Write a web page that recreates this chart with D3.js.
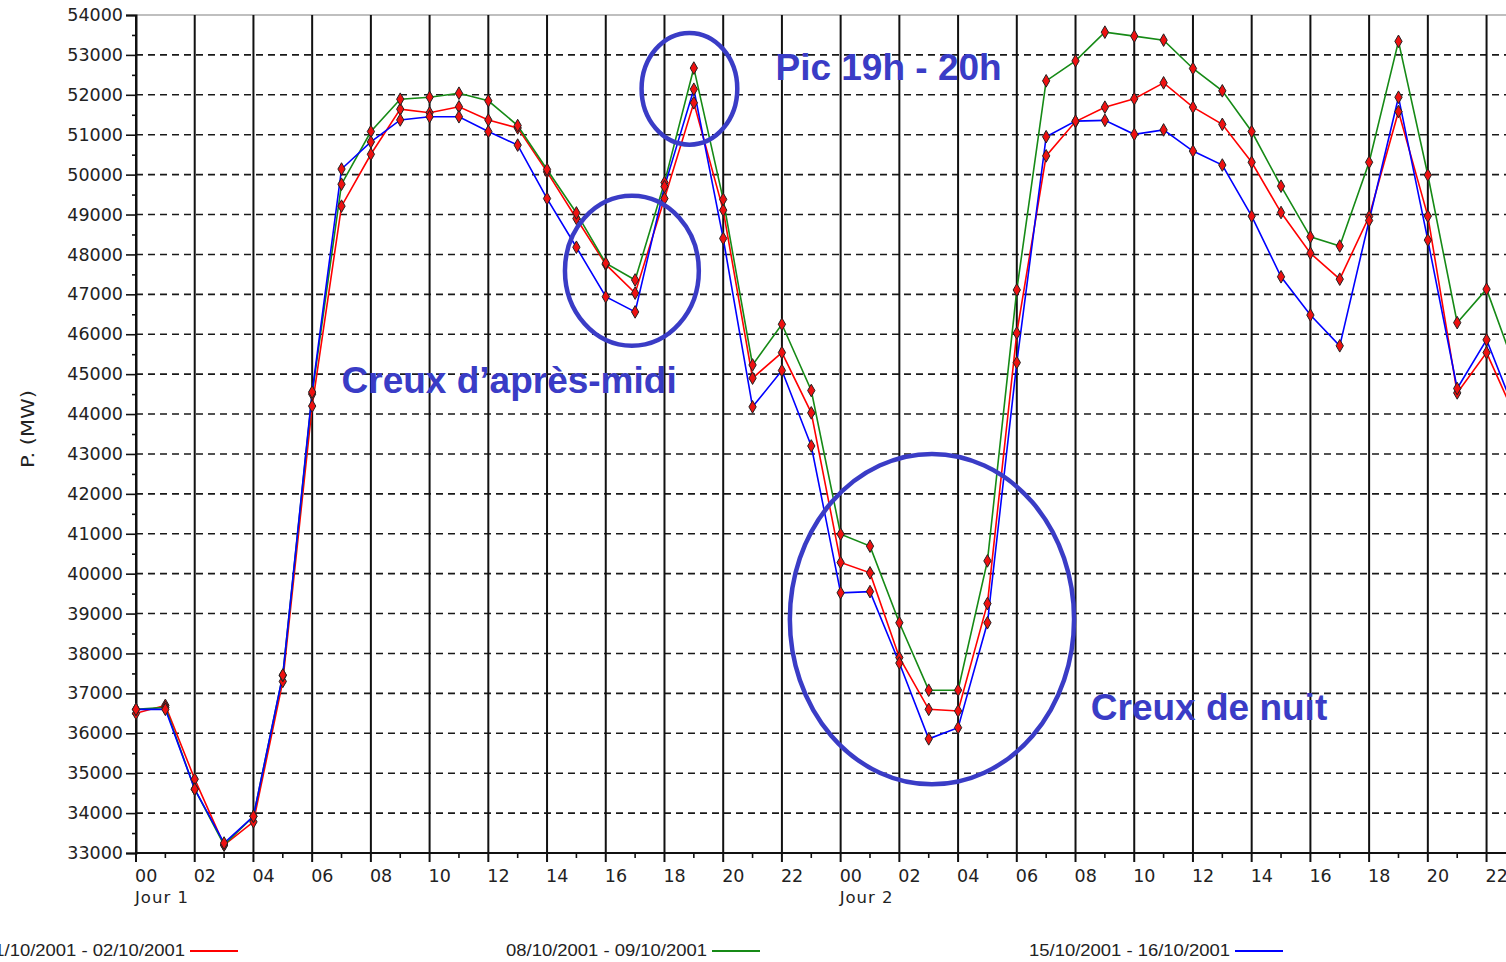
<!DOCTYPE html>
<html><head><meta charset="utf-8">
<script src="https://cdn.jsdelivr.net/npm/d3@7"></script>
<style>body{margin:0;background:#fff;} svg{display:block;}</style>
</head><body>
<svg id="c" width="1506" height="962"></svg>
<script>
const hours = d3.range(0, 48);
const tickLabels = ["00","02","04","06","08","10","12","14","16","18","20","22","00","02","04","06","08","10","12","14","16","18","20","22"];
const dayLabels = ["Jour 1", "Jour 2"];
const seriesNames = ["01/10/2001 - 02/10/2001", "08/10/2001 - 09/10/2001", "15/10/2001 - 16/10/2001"];
const redVals = [36500,36700,34850,33200,33780,37300,44200,49210,50510,51640,51550,51700,51370,51170,50070,48900,47750,47030,49400,51800,49110,44900,45540,44030,40280,40020,37900,36600,36560,39250,46030,50470,51330,51690,51900,52300,51690,51260,50310,49050,48030,47380,48950,51580,48960,44530,45540,43900];
const greenVals = [36600,36650,34600,33200,33920,37450,44500,49760,51080,51890,51940,52040,51850,51230,50130,49040,47780,47360,49800,52670,49380,45230,46250,44590,40990,40690,38770,37080,37080,40320,47110,52350,52850,53570,53470,53370,52660,52100,51080,49710,48440,48210,50310,53340,49990,46290,47130,45100];
const blueVals = [36600,36600,34600,33250,33920,37460,44550,50140,50820,51370,51450,51450,51080,50740,49400,48180,46940,46560,49700,52140,48400,44180,45090,43200,39520,39550,37760,35860,36140,38770,45290,50950,51340,51360,51010,51120,50590,50240,48960,47440,46480,45710,48850,51940,48360,44640,45860,44000];
const seriesColors = ["#ff0000", "#168a16", "#0000ff"];
const annotations = [
  {text: "Pic 19h - 20h", hour: 21.78, value: 52370},
  {text: "Creux d’après-midi", hour: 7.0, value: 44530},
  {text: "Creux de nuit", hour: 32.52, value: 36330}
];
const ellipses = [
  {hour: 18.85, value: 52150, rh: 1.63, rv: 1400},
  {hour: 16.89, value: 47590, rh: 2.28, rv: 1880},
  {hour: 27.11, value: 38860, rh: 4.84, rv: 4140}
];

const svg = d3.select("#c");
const pxPerHour = 29.36;
const x = d3.scaleLinear().domain([0, 48]).range([136, 136 + 48 * pxPerHour]);
const y = d3.scaleLinear().domain([33000, 54000]).range([853, 15]);
const W = 1506;
const font = "'DejaVu Sans', sans-serif";

// horizontal dashed grid
svg.append("g").selectAll("line").data(d3.range(34000, 54000, 1000)).join("line")
  .attr("x1", 136).attr("x2", W).attr("y1", d => y(d)).attr("y2", d => y(d))
  .attr("stroke", "#1a1a1a").attr("stroke-width", 1.6).attr("stroke-dasharray", "7,5");
// top border
svg.append("line").attr("x1", 136).attr("x2", W).attr("y1", y(54000)).attr("y2", y(54000))
  .attr("stroke", "#aaa").attr("stroke-width", 1.5);
// vertical grid (even hours) incl. tick extension
svg.append("g").selectAll("line").data(d3.range(0, 48, 2)).join("line")
  .attr("x1", d => x(d)).attr("x2", d => x(d)).attr("y1", y(54000)).attr("y2", 862)
  .attr("stroke", "#111").attr("stroke-width", 2);
// minor x ticks
svg.append("g").selectAll("line").data(d3.range(1, 48, 2)).join("line")
  .attr("x1", d => x(d)).attr("x2", d => x(d)).attr("y1", 853).attr("y2", 858)
  .attr("stroke", "#111").attr("stroke-width", 1.6);
// axes
const yAxis = d3.axisLeft(y).tickValues(d3.range(33000, 54001, 1000)).tickSize(10).tickPadding(3).tickFormat(d3.format("d"));
const gy = svg.append("g").attr("transform", "translate(136,0)").call(yAxis);
gy.select(".domain").attr("stroke", "#111").attr("stroke-width", 2);
gy.selectAll(".tick line").attr("stroke", "#111").attr("stroke-width", 1.6);
gy.selectAll(".tick text").attr("font-family", font).attr("font-size", 17.5).attr("fill", "#222");
const yMinor = d3.axisLeft(y).tickValues(d3.range(33500, 54000, 1000)).tickSize(4).tickFormat("");
const gym = svg.append("g").attr("transform", "translate(136,0)").call(yMinor);
gym.select(".domain").remove();
gym.selectAll(".tick line").attr("stroke", "#111").attr("stroke-width", 1.6);
svg.append("line").attr("x1", 136).attr("x2", W).attr("y1", 853).attr("y2", 853)
  .attr("stroke", "#111").attr("stroke-width", 2);

// x tick labels
svg.append("g").selectAll("text").data(tickLabels).join("text")
  .attr("x", (d, i) => x(i * 2) - 1).attr("y", 882)
  .attr("font-family", font).attr("font-size", 17.5).attr("fill", "#222").text(d => d);
svg.append("g").selectAll("text").data(dayLabels).join("text")
  .attr("x", (d, i) => x(i * 24) - 1).attr("y", 903).attr("letter-spacing", 1)
  .attr("font-family", font).attr("font-size", 16.5).attr("fill", "#222").text(d => d);
// y label
svg.append("text").attr("transform", "translate(34,429) rotate(-90)").attr("text-anchor", "middle")
  .attr("font-family", font).attr("font-size", 17).attr("fill", "#222")
  .attr("textLength", 78).attr("lengthAdjust", "spacingAndGlyphs").text("P. (MW)");

// series
const allVals = [redVals, greenVals, blueVals];
const line = d3.line().x((d, i) => x(hours[i])).y(d => y(d));
svg.append("clipPath").attr("id", "pc").append("rect")
  .attr("x", 130).attr("y", 5).attr("width", W - 130).attr("height", 860);
const gs = svg.append("g").attr("clip-path", "url(#pc)");
allVals.forEach((vals, k) => {
  gs.append("path").datum(vals).attr("d", line).attr("fill", "none")
    .attr("stroke", seriesColors[k]).attr("stroke-width", 1.6);
});
const marker = d3.symbol().type(d3.symbolDiamond).size(46);
allVals.forEach((vals, k) => {
  gs.append("g").selectAll("path").data(vals).join("path")
    .attr("transform", (d, i) => `translate(${x(hours[i])},${y(d)})`)
    .attr("d", marker).attr("fill", "#ee1111").attr("stroke", "#222").attr("stroke-width", 1);
});

// annotations
const annColor = "#3a3cc6";
svg.append("g").selectAll("ellipse").data(ellipses).join("ellipse")
  .attr("cx", d => x(d.hour)).attr("cy", d => y(d.value))
  .attr("rx", d => d.rh * pxPerHour).attr("ry", d => y(33000) - y(33000 + d.rv))
  .attr("fill", "none").attr("stroke", annColor).attr("stroke-width", 4.5);
svg.append("g").selectAll("text").data(annotations).join("text")
  .attr("x", d => x(d.hour)).attr("y", d => y(d.value))
  .attr("font-family", "'Liberation Sans', Arial, sans-serif").attr("font-weight", "bold")
  .attr("font-size", 37).attr("fill", annColor).text(d => d.text);

// legend
const legendEnds = [185, 707, 1230];
seriesNames.forEach((name, k) => {
  svg.append("text").attr("x", legendEnds[k]).attr("y", 956).attr("text-anchor", "end")
    .attr("font-family", "'Liberation Sans Narrow', 'Liberation Sans', sans-serif").attr("font-size", 16)
    .attr("fill", "#222").attr("textLength", 201).attr("lengthAdjust", "spacingAndGlyphs").text(name);
  svg.append("line").attr("x1", legendEnds[k] + 5).attr("x2", legendEnds[k] + 53)
    .attr("y1", 951).attr("y2", 951).attr("stroke", seriesColors[k]).attr("stroke-width", 2);
});
</script>
</body></html>
